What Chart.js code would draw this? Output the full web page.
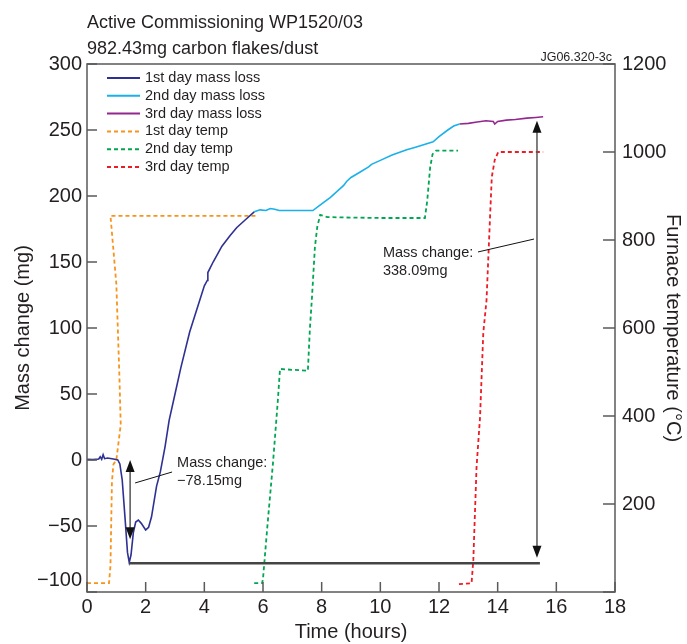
<!DOCTYPE html>
<html><head><meta charset="utf-8">
<script src="https://cdn.jsdelivr.net/npm/chart.js@4.4.0/dist/chart.umd.min.js"></script>
<style>html,body{margin:0;padding:0;background:#fff}</style>
</head><body>
<canvas id="c" width="687" height="644"></canvas>
<script>
// ---- data (hours / mg / °C) ----
const day1Hours = [0,0.2,0.4,0.45,0.5,0.55,0.6,0.7,0.9,1.05,1.12,1.2,1.3,1.38,1.44,1.5,1.58,1.66,1.75,1.85,2.0,2.1,2.2,2.37,2.5,2.66,2.8,3.0,3.2,3.5,3.8,4.0,4.1,4.12,4.3,4.6,4.88,5.1,5.4,5.7];
const day1Mass  = [0.5,0.3,0.8,2.5,0.5,4,1,1.5,0.8,0,-3,-15,-45,-70,-77.5,-72,-55,-47,-45.5,-48,-53,-51,-43,-20,-9,10,30,50,70,97,118,132,136,142,150,162,170,176,182,188];
const day2Hours = [5.7,5.9,6.1,6.25,6.4,6.55,6.8,7.2,7.7,8.0,8.3,8.6,8.75,8.85,9.0,9.3,9.6,9.7,10.0,10.4,10.9,11.2,11.5,11.8,12.0,12.3,12.5,12.7];
const day2Mass  = [188,189.5,189,190.5,190,189,189,189,189,194,199,205,208,211,214,218,222,224,227,231,235,237,239,241,245,250,253,254.5];
const day3Hours = [12.7,13.0,13.3,13.6,13.85,13.9,14.0,14.3,14.6,15.0,15.3,15.55];
const day3Mass  = [254.5,255,256,257,256.5,254.5,256.5,257.5,258,259,259.5,260];
const temp1Hours = [0,0.75,0.8,0.85,0.9,1.0,1.15,1.1,1.0,0.8,1.0,5.75];
const temp1Vals  = [20,20,60,250,290,300,380,500,700,855,855,855];
const temp2Hours = [5.7,5.97,6.0,6.15,6.34,6.5,6.58,7.0,7.53,7.6,7.67,7.77,7.85,7.95,8.2,9,10,11.52,11.6,11.7,11.78,11.9,12.65];
const temp2Vals  = [20,20,30,150,293,430,507,505,503,600,670,784,830,857,852,851,850,850,890,966,995,1003,1003];
const temp3Hours = [12.68,13.11,13.17,13.28,13.4,13.51,13.62,13.74,13.8,13.9,14.02,15.55];
const temp3Vals  = [18,20,73,284,398,589,663,852,943,982,1000,1000];
const seriesLabels = ['1st day mass loss','2nd day mass loss','3rd day mass loss','1st day temp','2nd day temp','3rd day temp'];
const xTicksStep = 2, massTicksStep = 50, tempTicksStep = 200;

// annotation anchors in data units (hours, mg)
const noteLow  = {arrowX:1.47, from:0, to:-60, lineFrom:[1.64,-17.4], lineTo:[2.9,-9.1], textX:3.07, textY:[-2.3,-16], text:['Mass change:','\u221278.15mg']};
const noteHigh = {arrowX:15.34, from:257, to:-74, lineFrom:[13.33,157.6], lineTo:[15.24,167.4], textX:10.09, textY:[156.8,143.2], text:['Mass change:','338.09mg']};
const baseLine = {x0:1.43, x1:15.44, y:-78.15};

const FONT = '"Liberation Sans", Arial, Helvetica, sans-serif';
const pts = (xs, ys) => xs.map((x,i)=>({x, y:ys[i]}));

const colors = ['#2e3192','#1ab0ea','#92278f','#f7941d','#00a651','#ed1c24'];

const frame = {
  id:'frame',
  afterDraw(chart){
    const ctx = chart.ctx, a = chart.chartArea;
    const xs = chart.scales.x, ys = chart.scales.y, y2 = chart.scales.y2;
    ctx.save();
    ctx.strokeStyle = '#5a5a5a'; ctx.lineWidth = 1.5;
    ctx.strokeRect(a.left, a.top, a.right-a.left, a.bottom-a.top);
    ctx.beginPath();
    ys.ticks.forEach(t=>{ const p = Math.round(ys.getPixelForValue(t.value)); ctx.moveTo(a.left,p); ctx.lineTo(a.left+10,p); });
    xs.ticks.forEach(t=>{ const p = xs.getPixelForValue(t.value); ctx.moveTo(p,a.bottom); ctx.lineTo(p,a.bottom-10); });
    y2.ticks.forEach(t=>{ const p = Math.round(y2.getPixelForValue(t.value)); ctx.moveTo(a.right,p); ctx.lineTo(a.right-12,p); });
    ctx.stroke();

    // titles
    ctx.fillStyle = '#231f20';
    ctx.font = '18px ' + FONT; ctx.textAlign='left'; ctx.textBaseline='alphabetic';
    ctx.fillText('Active Commissioning WP1520/03', a.left, 28);
    ctx.fillText('982.43mg carbon flakes/dust', a.left, 54);
    ctx.font = '12.5px ' + FONT; ctx.textAlign='right';
    ctx.fillText('JG06.320-3c', a.right-3, 61);

    // legend
    ctx.font = '14.5px ' + FONT; ctx.textAlign='left'; ctx.textBaseline='middle';
    chart.data.datasets.forEach((d,i)=>{
      const y = 78 + i*17.8;
      ctx.beginPath(); ctx.strokeStyle = d.borderColor; ctx.lineWidth = 2;
      ctx.setLineDash(d.borderDash || []);
      ctx.moveTo(107,y); ctx.lineTo(140,y); ctx.stroke();
      ctx.setLineDash([]);
      ctx.fillStyle = '#231f20';
      ctx.fillText(d.label, 145, y);
    });
    ctx.restore();
  },
  afterDatasetsDraw(chart){
    const ctx = chart.ctx, xs = chart.scales.x, ys = chart.scales.y;
    const X = v=>xs.getPixelForValue(v), Y = v=>ys.getPixelForValue(v);
    ctx.save();
    ctx.strokeStyle='#444'; ctx.lineWidth=2.5;
    ctx.beginPath(); ctx.moveTo(X(baseLine.x0),Y(baseLine.y)); ctx.lineTo(X(baseLine.x1),Y(baseLine.y)); ctx.stroke();
    const arrowHead = (x,y,dir)=>{ ctx.beginPath(); ctx.moveTo(x,y); ctx.lineTo(x-4.5,y+dir*12); ctx.lineTo(x+4.5,y+dir*12); ctx.closePath(); ctx.fill(); };
    [noteLow, noteHigh].forEach(n=>{
      const x = X(n.arrowX), y0 = Y(n.from), y1 = Y(n.to);
      ctx.strokeStyle='#555'; ctx.lineWidth=1.5; ctx.fillStyle='#111';
      ctx.beginPath(); ctx.moveTo(x,y0+10); ctx.lineTo(x,y1-10); ctx.stroke();
      arrowHead(x,y0,1); arrowHead(x,y1,-1);
      ctx.strokeStyle='#111'; ctx.lineWidth=1;
      ctx.beginPath(); ctx.moveTo(X(n.lineFrom[0]),Y(n.lineFrom[1])); ctx.lineTo(X(n.lineTo[0]),Y(n.lineTo[1])); ctx.stroke();
      ctx.fillStyle='#231f20'; ctx.font='14.5px '+FONT; ctx.textAlign='left'; ctx.textBaseline='middle';
      n.text.forEach((t,i)=>ctx.fillText(t, X(n.textX), Y(n.textY[i])));
    });
    ctx.restore();
  }
};

const lineDs = (label, data, color, axis, dash)=>({
  label, data, borderColor:color, backgroundColor:color, yAxisID:axis,
  borderWidth: dash ? 1.8 : 1.6, borderDash: dash || undefined, pointRadius:0, showLine:true, tension:0, fill:false
});

new Chart(document.getElementById('c'), {
  type:'scatter',
  data:{ datasets:[
    lineDs(seriesLabels[0], pts(day1Hours, day1Mass), colors[0], 'y'),
    lineDs(seriesLabels[1], pts(day2Hours, day2Mass), colors[1], 'y'),
    lineDs(seriesLabels[2], pts(day3Hours, day3Mass), colors[2], 'y'),
    lineDs(seriesLabels[3], pts(temp1Hours, temp1Vals), colors[3], 'y2', [4,3]),
    lineDs(seriesLabels[4], pts(temp2Hours, temp2Vals), colors[4], 'y2', [4,3]),
    lineDs(seriesLabels[5], pts(temp3Hours, temp3Vals), colors[5], 'y2', [4,3]),
  ]},
  options:{
    responsive:false, animation:false, devicePixelRatio:1,
    layout:{padding:{top:64,left:0,right:0,bottom:0}},
    plugins:{legend:{display:false}, tooltip:{enabled:false}},
    scales:{
      x:{type:'linear', position:'bottom', min:0, max:18,
        grid:{display:false, drawTicks:false}, border:{display:false},
        ticks:{stepSize:xTicksStep, font:{size:20, family:FONT}, color:'#231f20', padding:3, maxRotation:0},
        title:{display:true, text:'Time (hours)', font:{size:20, family:FONT}, color:'#231f20', padding:0},
        afterFit:s=>{s.height=52;}},
      y:{type:'linear', position:'left', min:-100, max:300,
        grid:{display:false, drawTicks:false}, border:{display:false},
        ticks:{stepSize:massTicksStep, font:{size:20, family:FONT}, color:'#231f20', padding:5,
          callback:v=> v===-100 ? ['\u2212100',''] : (v<0 ? '\u2212'+Math.abs(v) : String(v))},
        title:{display:true, text:'Mass change (mg)', font:{size:20, family:FONT}, color:'#231f20', padding:{top:11,bottom:0}},
        afterFit:s=>{s.width=87;}},
      y2:{type:'linear', position:'right', min:0, max:1200,
        grid:{display:false, drawTicks:false, drawOnChartArea:false}, border:{display:false},
        ticks:{stepSize:tempTicksStep, font:{size:20, family:FONT}, color:'#231f20', padding:7,
          callback:v=> v===0 ? '' : String(v)},
        title:{display:true, text:'Furnace temperature (\u00B0C)', font:{size:20, family:FONT}, color:'#231f20', padding:{top:2,bottom:0}},
        afterFit:s=>{s.width=72;}}
    }
  },
  plugins:[frame]
});
</script>
</body></html>
